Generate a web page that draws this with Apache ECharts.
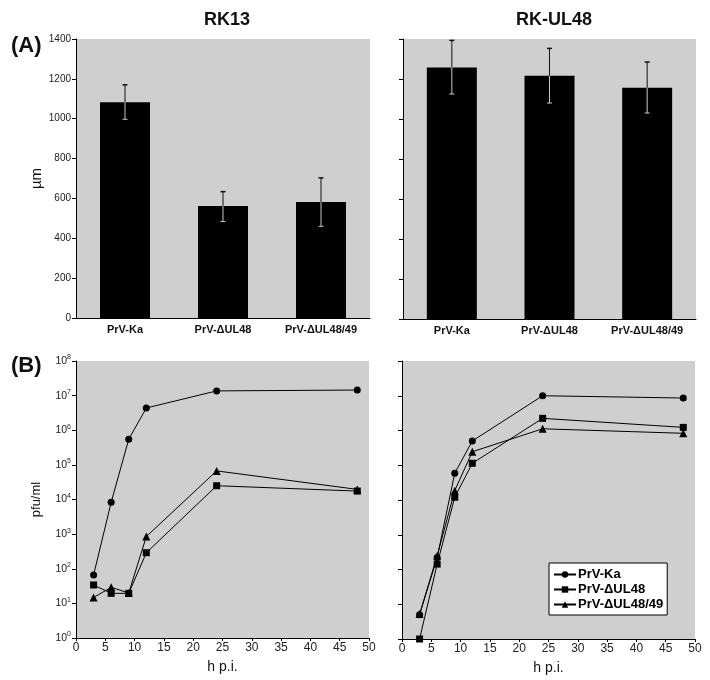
<!DOCTYPE html>
<html><head><meta charset="utf-8">
<script src="https://cdn.jsdelivr.net/npm/echarts@6/dist/echarts.min.js"></script>
<style>html,body{margin:0;padding:0;background:#fff}#c{width:710px;height:680px}</style>
</head><body><div id="c"></div>
<script>
// ---- data ----
const strains = ['PrV-Ka', 'PrV-\u0394UL48', 'PrV-\u0394UL48/49'];
const rk13Size = [1083, 562, 582];
const rk13Lo = [997, 484, 460];
const rk13Hi = [1170, 634, 703];
const rkul48Size = [1258, 1216, 1156];
const rkul48Lo = [1125, 1080, 1030];
const rkul48Hi = [1393, 1353, 1285];
const hours = [3, 6, 9, 12, 24, 48];
const rk13Ka = [66, 8300, 550000, 4400000, 13700000, 14500000];
const rk13D48 = [34, 19.5, 19.5, 290, 25000, 17500];
const rk13D4849 = [14.8, 29, 20, 850, 67000, 19600];
const rkul48Ka = [5.0, 220, 59000, 500000, 10000000, 8600000];
const rkul48D48 = [1, 143, 12000, 114000, 2240000, 1230000];
const rkul48D4849 = [5.2, 247, 18600, 245000, 1120000, 830000];
const sizeTicks = [0, 200, 400, 600, 800, 1000, 1200, 1400];
const hourTicks = [0, 5, 10, 15, 20, 25, 30, 35, 40, 45, 50];

const FF = 'Liberation Sans, Arial, sans-serif';
const PLOT = '#cfcfcf';
const chart = echarts.init(document.getElementById('c'));

const grids = [
  {left: 76, top: 39, width: 294, height: 279},
  {left: 403, top: 39, width: 293, height: 280},
  {left: 76, top: 361, width: 293, height: 277},
  {left: 402, top: 361, width: 293, height: 278}
].map(g => Object.assign({show: true, backgroundColor: PLOT, borderWidth: 0}, g));

function catAxis(i) {
  return {type: 'category', gridIndex: i, data: strains,
    axisLine: {lineStyle: {color: '#000', width: 1}}, axisTick: {show: false},
    axisLabel: {fontFamily: FF, fontWeight: 'bold', fontSize: 11, color: '#111', margin: 6}};
}
function valAxis(i, showLabel) {
  return {type: 'value', gridIndex: i, min: sizeTicks[0], max: sizeTicks[sizeTicks.length - 1], interval: 200,
    name: showLabel ? '\u00b5m' : '', nameLocation: 'middle', nameGap: 32, nameRotate: 90,
    nameTextStyle: {fontFamily: FF, fontSize: 15, color: '#111'},
    axisLine: {show: true, lineStyle: {color: '#000'}}, axisTick: {show: true, length: 4, lineStyle: {color: '#000'}},
    splitLine: {show: false},
    axisLabel: {show: showLabel, fontFamily: FF, fontSize: 10, color: '#222', margin: 5, formatter: v => String(v)}};
}
function hourAxis(i) {
  return {type: 'value', gridIndex: i, min: hourTicks[0], max: hourTicks[hourTicks.length - 1], interval: 5,
    name: 'h p.i.', nameLocation: 'middle', nameGap: 22,
    nameTextStyle: {fontFamily: FF, fontSize: 14, color: '#111'},
    axisLine: {lineStyle: {color: '#000'}}, axisTick: {show: true, length: 3, lineStyle: {color: '#000'}},
    splitLine: {show: false},
    axisLabel: {fontFamily: FF, fontSize: 12, color: '#222', margin: 4}};
}
function logAxis(i, showLabel) {
  return {type: 'log', logBase: 10, gridIndex: i, min: 1, max: 1e8, splitNumber: 8,
    name: showLabel ? 'pfu/ml' : '', nameLocation: 'middle', nameGap: 33, nameRotate: 90,
    nameTextStyle: {fontFamily: FF, fontSize: 13, color: '#111'},
    axisLine: {show: true, lineStyle: {color: '#000'}}, axisTick: {show: true, length: 4, lineStyle: {color: '#000'}},
    splitLine: {show: false}, minorTick: {show: false},
    axisLabel: {show: showLabel, margin: 5,
      formatter: v => '{b|10}{s|' + Math.round(Math.log10(v)) + '}',
      rich: {b: {fontFamily: FF, fontSize: 10.5, color: '#222'}, s: {fontFamily: FF, fontSize: 7, color: '#222', verticalAlign: 'top', padding: [0, 0, 7, 0]}}}};
}

function errSeries(gi, lo, hi, val) {
  return {type: 'custom', xAxisIndex: gi, yAxisIndex: gi, z: 5,
    data: strains.map((s, k) => [k, lo[k], hi[k], val[k]]),
    renderItem: (params, api) => {
      const x = api.coord([api.value(0), 0])[0];
      const yLo = api.coord([api.value(0), api.value(1)])[1];
      const yHi = api.coord([api.value(0), api.value(2)])[1];
      const yV = api.coord([api.value(0), api.value(3)])[1];
      const w = 2.5;
      return {type: 'group', children: [
        {type: 'line', shape: {x1: x, y1: yHi, x2: x, y2: yV}, style: {stroke: '#111', lineWidth: 1}},
        {type: 'line', shape: {x1: x - w, y1: yHi, x2: x + w, y2: yHi}, style: {stroke: '#111', lineWidth: 1.5}},
        {type: 'line', shape: {x1: x, y1: yV, x2: x, y2: yLo}, style: {stroke: '#c8c8c8', lineWidth: 1}},
        {type: 'line', shape: {x1: x - w, y1: yLo, x2: x + w, y2: yLo}, style: {stroke: '#c8c8c8', lineWidth: 1}}
      ]};
    }};
}

function lineSeries(gi, name, ys, sym, size) {
  return {type: 'line', name: name, xAxisIndex: gi, yAxisIndex: gi,
    data: hours.map((h, k) => [h, ys[k]]), symbol: sym, symbolSize: size,
    lineStyle: {color: '#000', width: 1}, itemStyle: {color: '#000'}, showAllSymbol: true, z: 3};
}

chart.setOption({
  animation: false,
  backgroundColor: '#fff',
  title: [
    {text: 'RK13', left: 222, top: 6, textAlign: 'center', textStyle: {fontFamily: FF, fontSize: 18, fontWeight: 'bold', color: '#111'}},
    {text: 'RK-UL48', left: 549, top: 6, textAlign: 'center', textStyle: {fontFamily: FF, fontSize: 18, fontWeight: 'bold', color: '#111'}},
    {text: '(A)', left: 6, top: 30, textStyle: {fontFamily: FF, fontSize: 22, fontWeight: 'bold', color: '#111'}},
    {text: '(B)', left: 6, top: 350, textStyle: {fontFamily: FF, fontSize: 22, fontWeight: 'bold', color: '#111'}}
  ],
  grid: grids,
  xAxis: [catAxis(0), catAxis(1), hourAxis(2), hourAxis(3)],
  yAxis: [valAxis(0, true), valAxis(1, false), logAxis(2, true), logAxis(3, false)],
  legend: {
    data: strains, orient: 'vertical', left: 549, top: 563,
    backgroundColor: '#fff', borderColor: '#000', borderWidth: 1, padding: [5, 4, 4, 4],
    itemGap: 2, itemWidth: 22, itemHeight: 8,
    textStyle: {fontFamily: FF, fontSize: 13, fontWeight: 'bold', color: '#000', padding: [0, 0, 0, -3]}
  },
  series: [
    {type: 'bar', xAxisIndex: 0, yAxisIndex: 0, data: rk13Size, barWidth: 50, itemStyle: {color: '#000'}},
    errSeries(0, rk13Lo, rk13Hi, rk13Size),
    {type: 'bar', xAxisIndex: 1, yAxisIndex: 1, data: rkul48Size, barWidth: 50, itemStyle: {color: '#000'}},
    errSeries(1, rkul48Lo, rkul48Hi, rkul48Size),
    lineSeries(2, strains[0], rk13Ka, 'circle', 7),
    lineSeries(2, strains[1], rk13D48, 'rect', 7),
    lineSeries(2, strains[2], rk13D4849, 'triangle', 8),
    lineSeries(3, strains[0], rkul48Ka, 'circle', 7),
    lineSeries(3, strains[1], rkul48D48, 'rect', 7),
    lineSeries(3, strains[2], rkul48D4849, 'triangle', 8)
  ]
});
</script></body></html>
